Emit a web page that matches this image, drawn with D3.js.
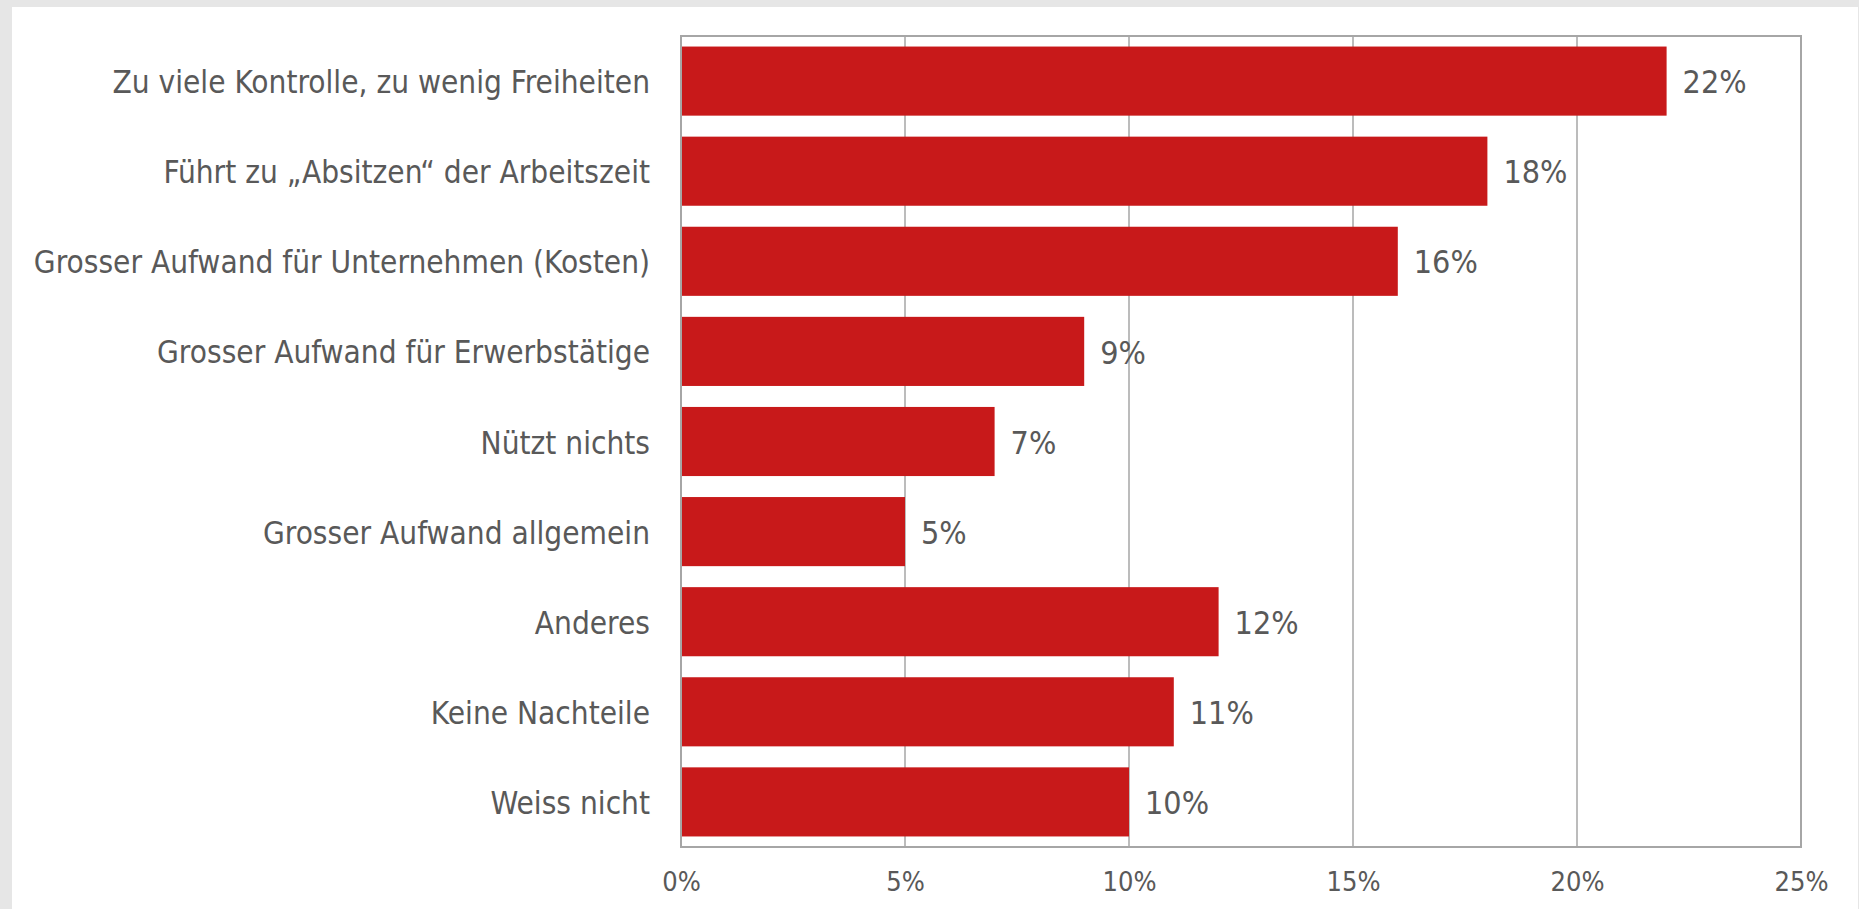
<!DOCTYPE html>
<html>
<head>
<meta charset="utf-8">
<script src="https://cdn.jsdelivr.net/npm/d3@7"></script>
<style>
  html, body { margin: 0; padding: 0; background: #e6e6e6; }
  svg { display: block; }
</style>
</head>
<body>
<svg id="chart" width="1859" height="909"></svg>
<script>
const categories = [
  "Zu viele Kontrolle, zu wenig Freiheiten",
  "Führt zu „Absitzen“ der Arbeitszeit",
  "Grosser Aufwand für Unternehmen (Kosten)",
  "Grosser Aufwand für Erwerbstätige",
  "Nützt nichts",
  "Grosser Aufwand allgemein",
  "Anderes",
  "Keine Nachteile",
  "Weiss nicht"
];
const values = [22, 18, 16, 9, 7, 5, 12, 11, 10];
const tickValues = [0, 5, 10, 15, 20, 25];

const svg = d3.select("#chart");
const W = 1859, H = 909;
const font = "'DejaVu Sans Condensed', 'DejaVu Sans', sans-serif";
const textColor = "#595959";
const gridColor = "#a6a6a6";
const barColor = "#c8191a";

// white panel
svg.append("rect").attr("x", 12).attr("y", 7).attr("width", W - 13).attr("height", H - 7).attr("fill", "#ffffff");

const margin = { left: 681, right: 58, top: 36, bottom: 62 };
const x = d3.scaleLinear().domain([0, 25]).range([margin.left, W - margin.right]);
const y = d3.scaleBand().domain(categories).range([margin.top, H - margin.bottom]).paddingInner(0.233).paddingOuter(0.117);

// gridlines
svg.append("g").selectAll("line").data(tickValues.slice(1, -1)).join("line")
  .attr("x1", d => x(d)).attr("x2", d => x(d))
  .attr("y1", margin.top).attr("y2", H - margin.bottom)
  .attr("stroke", gridColor).attr("stroke-width", 1.5);

// bars
svg.append("g").selectAll("rect").data(values).join("rect")
  .attr("x", x(0))
  .attr("y", (d, i) => y(categories[i]))
  .attr("width", d => x(d) - x(0))
  .attr("height", y.bandwidth())
  .attr("fill", barColor);

// plot border
svg.append("rect")
  .attr("x", margin.left).attr("y", margin.top)
  .attr("width", x(25) - x(0)).attr("height", H - margin.bottom - margin.top)
  .attr("fill", "none").attr("stroke", gridColor).attr("stroke-width", 2);

// x axis
const xAxis = d3.axisBottom(x).tickValues(tickValues).tickFormat(d => d + "%").tickSize(0).tickPadding(25);
const gx = svg.append("g").attr("transform", `translate(0,${H - margin.bottom})`).call(xAxis);
gx.select(".domain").remove();
gx.selectAll("text").attr("fill", textColor).style("font-family", font).style("font-size", "27px");

// y axis labels
const yAxis = d3.axisLeft(y).tickSize(0).tickPadding(31);
const gy = svg.append("g").attr("transform", `translate(${margin.left},2)`).call(yAxis);
gy.select(".domain").remove();
gy.selectAll("text").attr("fill", textColor).style("font-family", font).style("font-size", "31.3px");

// value labels
svg.append("g").selectAll("text").data(values).join("text")
  .attr("x", d => x(d) + 16)
  .attr("y", (d, i) => y(categories[i]) + y.bandwidth() / 2 + 1)
  .attr("dy", "0.35em")
  .attr("fill", textColor)
  .style("font-family", font).style("font-size", "32px")
  .text(d => d + "%");
</script>
</body>
</html>
